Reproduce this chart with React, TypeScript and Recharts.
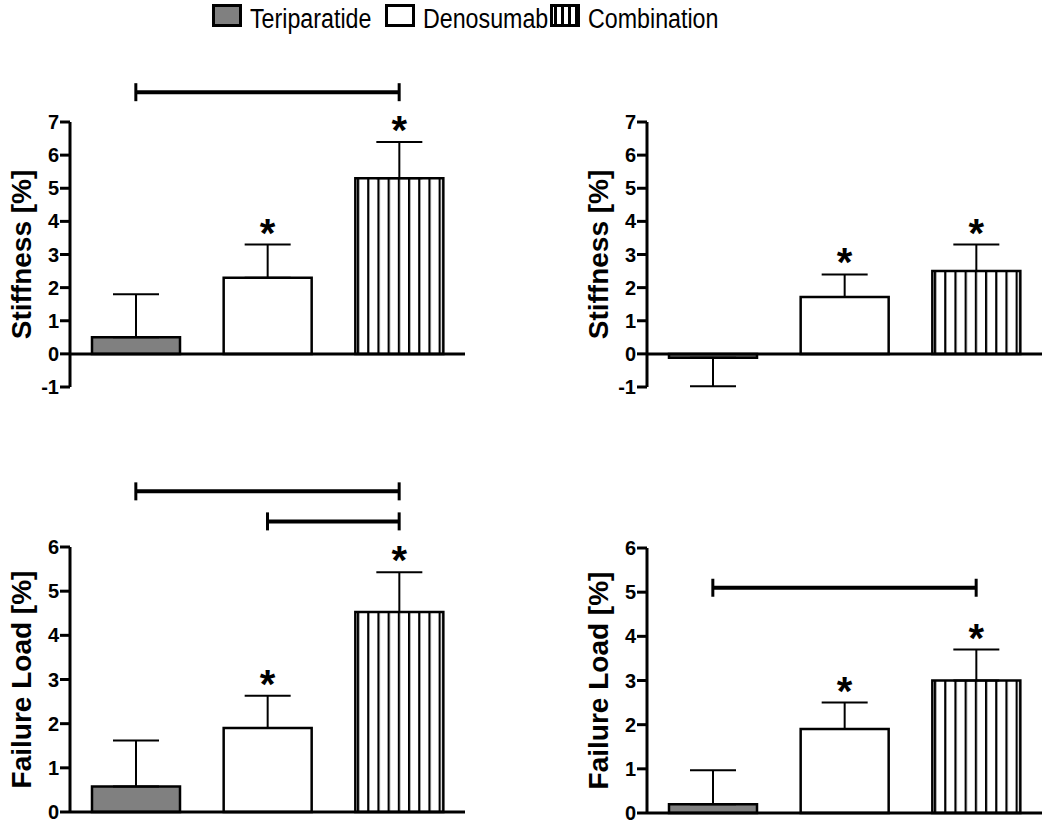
import React from 'react';
import { ComposedChart, Bar, Cell, ErrorBar, XAxis, YAxis, ReferenceLine, Line, LabelList } from 'recharts';

const groups = ['Teriparatide', 'Denosumab', 'Combination'];

const stiffnessLeftMean = [0.5, 2.3, 5.3];
const stiffnessLeftErr = [1.3, 1.0, 1.1];
const stiffnessLeftStar = [false, true, true];

const stiffnessRightMean = [-0.12, 1.72, 2.5];
const stiffnessRightErrDown = [0.86, 0, 0];
const stiffnessRightErrUp = [0, 0.68, 0.8];
const stiffnessRightStar = [false, true, true];

const failureLeftMean = [0.58, 1.9, 4.53];
const failureLeftErr = [1.04, 0.73, 0.9];
const failureLeftStar = [false, true, true];

const failureRightMean = [0.2, 1.9, 3.0];
const failureRightErr = [0.77, 0.6, 0.7];
const failureRightStar = [false, true, true];

const stiffnessTicks = [-1, 0, 1, 2, 3, 4, 5, 6, 7];
const failureTicks = [0, 1, 2, 3, 4, 5, 6];

// significance brackets: [fromGroupIndex, toGroupIndex, level]
const stiffnessLeftBrackets = [[0, 2, 7.9]];
const stiffnessRightBrackets: number[][] = [];
const failureLeftBrackets = [[0, 2, 7.26], [1, 2, 6.58]];
const failureRightBrackets = [[0, 2, 5.1]];

const FONT = '"Liberation Sans", Arial, Helvetica, sans-serif';
const fills = ['#808080', '#ffffff', 'url(#vstripes)'];

function buildData(mean: number[], down: number[], up: number[], star: boolean[]) {
  return groups.map((g, i) => ({
    group: g,
    mean: mean[i],
    err: [down[i], up[i]],
    starPos: star[i] ? mean[i] + up[i] : null,
  }));
}

const BracketShape = (props: any) => {
  const { x1, y1, x2, y2 } = props;
  if ([x1, y1, x2, y2].some((v) => typeof v !== 'number' || isNaN(v))) return null;
  return (
    <g>
      <line x1={x1} y1={y1} x2={x2} y2={y2} stroke="#000" strokeWidth={4} />
      <line x1={x1} y1={y1 - 9} x2={x1} y2={y1 + 9} stroke="#000" strokeWidth={3} />
      <line x1={x2} y1={y2 - 9} x2={x2} y2={y2 + 9} stroke="#000" strokeWidth={3} />
    </g>
  );
};

const StarLabel = (props: any) => {
  const { x, y, value } = props;
  if (value == null || typeof y !== 'number' || isNaN(y)) return null;
  return (
    <text x={x} y={y + 2} textAnchor="middle" fontFamily={FONT} fontWeight={700} fontSize={40} fill="#000">
      *
    </text>
  );
};

const YTick = (props: any) => {
  const { x, y, payload } = props;
  return (
    <text
      x={x}
      y={y}
      textAnchor="end"
      dominantBaseline="central"
      fontFamily={FONT}
      fontWeight={700}
      fontSize={20}
      fill="#000"
    >
      {payload.value}
    </text>
  );
};

function makeYLabel(text: string) {
  return (props: any) => {
    const vb = props.viewBox || { x: 0, y: 0, width: 70, height: 0 };
    const cx = vb.x + vb.width - 49;
    const cy = vb.y + vb.height / 2;
    return (
      <text
        x={cx}
        y={cy}
        transform={`rotate(-90, ${cx}, ${cy})`}
        textAnchor="middle"
        dominantBaseline="central"
        fontFamily={FONT}
        fontWeight={700}
        fontSize={28}
        fill="#000"
      >
        {text}
      </text>
    );
  };
}

type PanelProps = {
  left: number;
  top: number;
  width: number;
  height: number;
  margin: { top: number; right: number; bottom: number; left: number };
  domain: [number, number];
  ticks: number[];
  label: string;
  data: any[];
  brackets: number[][];
};

function Panel({ left, top, width, height, margin, domain, ticks, label, data, brackets }: PanelProps) {
  return (
    <div style={{ position: 'absolute', left, top }}>
      <ComposedChart width={width} height={height} data={data} margin={margin}>
        <XAxis dataKey="group" hide />
        <YAxis
          domain={domain}
          ticks={ticks}
          interval={0}
          width={70}
          axisLine={{ stroke: '#000', strokeWidth: 3 }}
          tickLine={{ stroke: '#000', strokeWidth: 3 }}
          tickSize={10}
          tickMargin={1}
          tick={<YTick />}
          label={makeYLabel(label)}
        />
        <Bar dataKey="mean" barSize={88} stroke="#000" strokeWidth={2.5} isAnimationActive={false}>
          {data.map((d, i) => (
            <Cell key={d.group} fill={fills[i]} />
          ))}
          <ErrorBar dataKey="err" width={23} stroke="#000" strokeWidth={2} isAnimationActive={false} />
        </Bar>
        <ReferenceLine y={0} stroke="#000" strokeWidth={3} />
        <Line dataKey="starPos" stroke="none" dot={false} activeDot={false} isAnimationActive={false} legendType="none">
          <LabelList dataKey="starPos" content={StarLabel} />
        </Line>
        {brackets.map((b, i) => (
          <ReferenceLine
            key={i}
            segment={[
              { x: groups[b[0]], y: b[2] },
              { x: groups[b[1]], y: b[2] },
            ]}
            ifOverflow="visible"
            shape={BracketShape}
          />
        ))}
      </ComposedChart>
    </div>
  );
}

function LegendBar() {
  const boxes = [212, 385, 550];
  return (
    <svg width={760} height={36} style={{ position: 'absolute', left: 0, top: 0 }}>
      {groups.map((g, i) => (
        <g key={g}>
          <rect
            x={boxes[i] + 1.5}
            y={5.5}
            width={27}
            height={20}
            fill={i === 2 ? 'url(#lstripes)' : fills[i]}
            stroke="#000"
            strokeWidth={3}
          />
          <text
            transform={`translate(${boxes[i] + 38}, 28) scale(0.83, 1)`}
            x={0}
            y={0}
            fontFamily={FONT}
            fontSize={28}
            fill="#000"
          >
            {g}
          </text>
        </g>
      ))}
    </svg>
  );
}

export default function App() {
  const d1 = buildData(stiffnessLeftMean, [0, 0, 0], stiffnessLeftErr, stiffnessLeftStar);
  const d2 = buildData(stiffnessRightMean, stiffnessRightErrDown, stiffnessRightErrUp, stiffnessRightStar);
  const d3 = buildData(failureLeftMean, [0, 0, 0], failureLeftErr, failureLeftStar);
  const d4 = buildData(failureRightMean, [0, 0, 0], failureRightErr, failureRightStar);
  return (
    <div style={{ position: 'absolute', left: 0, top: 0, width: 1050, height: 825, background: '#fff', overflow: 'hidden' }}>
      <svg width={0} height={0} style={{ position: 'absolute' }}>
        <defs>
          <pattern id="vstripes" patternUnits="userSpaceOnUse" width={10.2} height={10}>
            <rect x={0} y={0} width={10.2} height={10} fill="#fff" />
            <rect x={0} y={0} width={2.2} height={10} fill="#000" />
          </pattern>
          <pattern id="lstripes" patternUnits="userSpaceOnUse" x={1} width={7} height={10}>
            <rect x={0} y={0} width={7} height={10} fill="#fff" />
            <rect x={0} y={0} width={3} height={10} fill="#000" />
          </pattern>
        </defs>
      </svg>
      <LegendBar />
      <Panel
        left={0}
        top={40}
        width={480}
        height={380}
        margin={{ top: 82, right: 15, bottom: 33, left: 0 }}
        domain={[-1, 7]}
        ticks={stiffnessTicks}
        label="Stiffness [%]"
        data={d1}
        brackets={stiffnessLeftBrackets}
      />
      <Panel
        left={577}
        top={40}
        width={470}
        height={380}
        margin={{ top: 82, right: 5, bottom: 33, left: 0 }}
        domain={[-1, 7]}
        ticks={stiffnessTicks}
        label="Stiffness [%]"
        data={d2}
        brackets={stiffnessRightBrackets}
      />
      <Panel
        left={0}
        top={440}
        width={480}
        height={385}
        margin={{ top: 107, right: 15, bottom: 13, left: 0 }}
        domain={[0, 6]}
        ticks={failureTicks}
        label="Failure Load [%]"
        data={d3}
        brackets={failureLeftBrackets}
      />
      <Panel
        left={577}
        top={440}
        width={470}
        height={385}
        margin={{ top: 108, right: 5, bottom: 12, left: 0 }}
        domain={[0, 6]}
        ticks={failureTicks}
        label="Failure Load [%]"
        data={d4}
        brackets={failureRightBrackets}
      />
    </div>
  );
}
